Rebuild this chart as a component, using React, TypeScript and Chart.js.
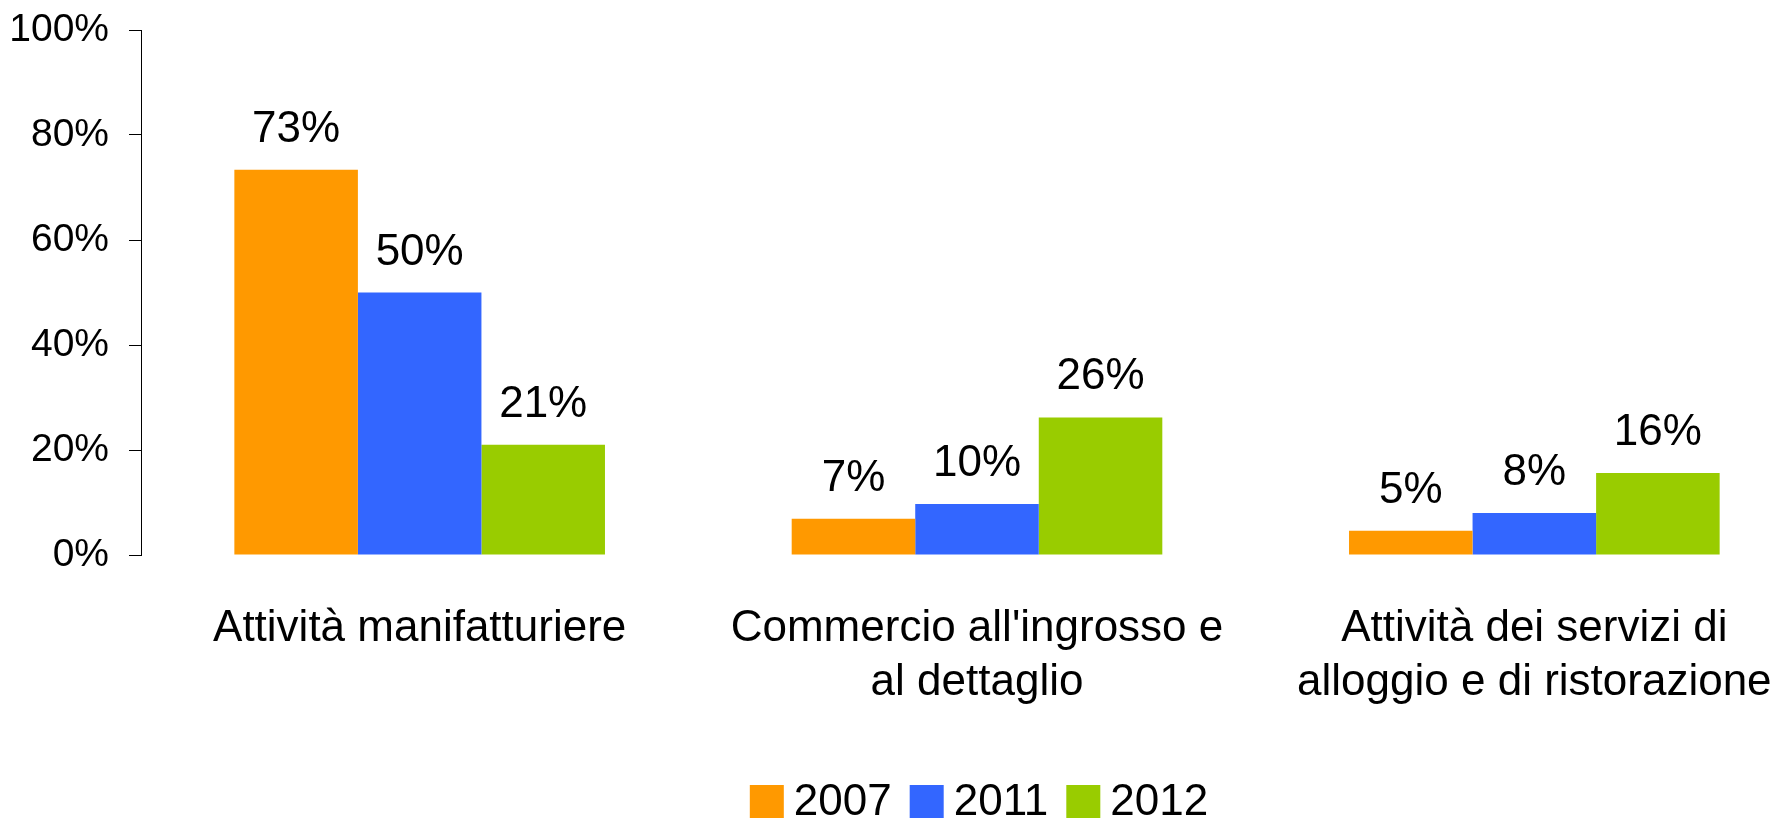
import React, { useEffect, useRef } from 'react';
import { Chart, registerables } from 'chart.js';

Chart.register(...registerables);

const FONT = "'Liberation Sans', Arial, Helvetica, sans-serif";

const categories: (string | string[])[] = [
  'Attività manifatturiere',
  ["Commercio all'ingrosso e", 'al dettaglio'],
  ['Attività dei servizi di', 'alloggio e di ristorazione'],
];
const seriesNames = ['2007', '2011', '2012'];
const values2007 = [73.4, 6.9, 4.6];
const values2011 = [50.0, 9.7, 8.0];
const values2012 = [21.0, 26.2, 15.6];
const yTickValues = [0, 20, 40, 60, 80, 100];
const seriesColors = ['#FF9900', '#3366FF', '#99CC00'];

const valueLabels = {
  id: 'valueLabels',
  afterDatasetsDraw(chart: any) {
    const ctx = chart.ctx;
    ctx.save();
    ctx.font = `44px ${FONT}`;
    ctx.fillStyle = '#000';
    ctx.textAlign = 'center';
    ctx.textBaseline = 'alphabetic';
    chart.data.datasets.forEach((ds: any, i: number) => {
      const meta = chart.getDatasetMeta(i);
      meta.data.forEach((bar: any, j: number) => {
        const v = ds.data[j] as number;
        ctx.fillText(`${Math.round(v)}%`, bar.x, bar.y - 28);
      });
    });
    ctx.restore();
  },
};

const bottomLegend = {
  id: 'bottomLegend',
  afterDraw(chart: any) {
    const ctx = chart.ctx;
    const box = 34;
    const gapText = 10;
    const gapItem = 18;
    const boxTop = 785;
    const baseline = 815;
    ctx.save();
    ctx.font = `44px ${FONT}`;
    const items = chart.data.datasets.map((ds: any) => ({
      label: ds.label as string,
      color: ds.backgroundColor as string,
      w: ctx.measureText(ds.label).width,
    }));
    const total =
      items.reduce((s: number, it: any) => s + box + gapText + it.w, 0) +
      gapItem * (items.length - 1);
    const { left, right } = chart.chartArea;
    let x = (left + right) / 2 + 2 - total / 2;
    ctx.textAlign = 'left';
    ctx.textBaseline = 'alphabetic';
    items.forEach((it: any) => {
      ctx.fillStyle = it.color;
      ctx.fillRect(x, boxTop, box, box);
      x += box + gapText;
      ctx.fillStyle = '#000';
      ctx.fillText(it.label, x, baseline);
      x += it.w + gapItem;
    });
    ctx.restore();
  },
};

export default function App() {
  const canvasRef = useRef<HTMLCanvasElement | null>(null);

  useEffect(() => {
    if (!canvasRef.current) return;
    Chart.defaults.font.family = FONT;
    const seriesValues = [values2007, values2011, values2012];
    const chart = new Chart(canvasRef.current, {
      type: 'bar',
      data: {
        labels: categories,
        datasets: seriesNames.map((name, i) => ({
          label: name,
          data: seriesValues[i],
          backgroundColor: seriesColors[i],
          borderWidth: 0,
          categoryPercentage: 0.665,
          barPercentage: 1.0,
        })),
      },
      options: {
        responsive: false,
        maintainAspectRatio: false,
        animation: false,
        layout: { padding: { top: 30, left: 0, right: 0, bottom: 0 } },
        plugins: {
          legend: { display: false },
          tooltip: { enabled: false },
        },
        scales: {
          x: {
            offset: true,
            grid: { display: false, drawTicks: false },
            border: { display: false },
            ticks: {
              font: { size: 44, lineHeight: 1.23 },
              color: '#000',
              padding: 47,
              maxRotation: 0,
              autoSkip: false,
            },
            afterFit: (s: any) => {
              s.height = 263;
              s.paddingLeft = 0;
              s.paddingRight = 0;
            },
          },
          y: {
            min: 0,
            max: 100,
            afterBuildTicks: (s: any) => {
              s.ticks = yTickValues.map((v) => ({ value: v }));
            },
            afterFit: (s: any) => {
              s.width = 141;
              s.paddingTop = 0;
              s.paddingBottom = 0;
            },
            grid: {
              drawOnChartArea: false,
              drawTicks: true,
              tickLength: 12,
              color: '#000',
              lineWidth: 1,
            },
            border: { display: true, color: '#000', width: 1 },
            ticks: {
              font: { size: 39 },
              color: '#000',
              padding: 20,
              callback: (v: any) => `${v}%`,
            },
          },
        },
      },
      plugins: [valueLabels, bottomLegend],
    });
    return () => chart.destroy();
  }, []);

  return (
    <div
      style={{
        position: 'fixed',
        left: 0,
        top: 0,
        width: 1775,
        height: 818,
        overflow: 'hidden',
        background: '#fff',
      }}
    >
      <canvas ref={canvasRef} width={1813} height={818} style={{ display: 'block' }} />
    </div>
  );
}
